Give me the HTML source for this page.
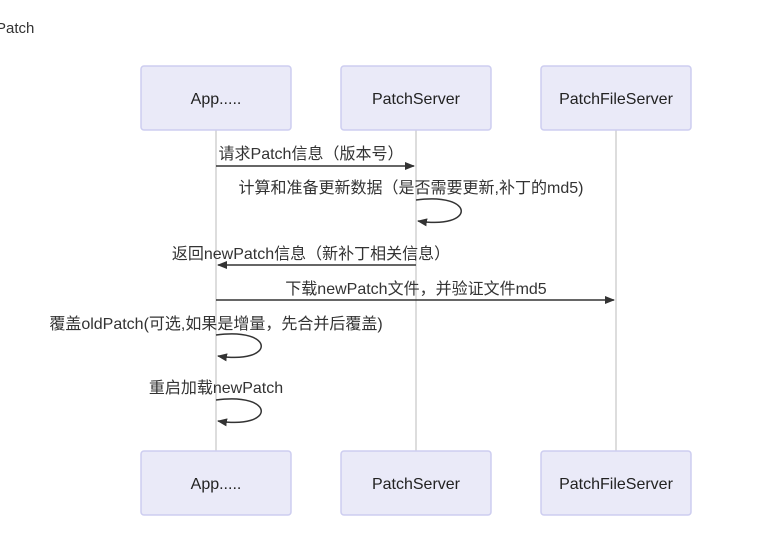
<!DOCTYPE html>
<html><head><meta charset="utf-8"><style>
body{margin:0;background:#fff;}
svg{display:block;font-family:"Liberation Sans","Noto Sans CJK SC",sans-serif;}
.box{fill:#eaeaf8;stroke:#cdcdf0;stroke-width:1.5;}
.an{font-size:16px;fill:#222;text-anchor:middle;}
.msg{font-size:16px;fill:#333;text-anchor:middle;}
.ll{stroke:#bbb;stroke-width:1;}
.ar{stroke:#333;stroke-width:1.5;fill:none;}
</style></head><body>
<svg width="760" height="554" viewBox="0 0 760 554">
<defs><marker id="a" markerWidth="10" markerHeight="8" refX="9" refY="4" orient="auto" markerUnits="userSpaceOnUse"><path d="M0,0 L10,4 L0,8 z" fill="#333"/></marker></defs>
<text x="-4" y="33" font-size="15" fill="#333">Patch</text>
<line class="ll" x1="216" y1="130" x2="216" y2="451"/>
<line class="ll" x1="416" y1="130" x2="416" y2="451"/>
<line class="ll" x1="616" y1="130" x2="616" y2="451"/>
<rect class="box" x="141" y="66" width="150" height="64" rx="3"/>
<rect class="box" x="341" y="66" width="150" height="64" rx="3"/>
<rect class="box" x="541" y="66" width="150" height="64" rx="3"/>
<rect class="box" x="141" y="451" width="150" height="64" rx="3"/>
<rect class="box" x="341" y="451" width="150" height="64" rx="3"/>
<rect class="box" x="541" y="451" width="150" height="64" rx="3"/>
<text class="an" x="216" y="104">App.....</text>
<text class="an" x="416" y="104">PatchServer</text>
<text class="an" x="616" y="104">PatchFileServer</text>
<text class="an" x="216" y="489">App.....</text>
<text class="an" x="416" y="489">PatchServer</text>
<text class="an" x="616" y="489">PatchFileServer</text>

<text class="msg" x="311" y="159">请求Patch信息（版本号）</text>
<line class="ar" x1="216" y1="166" x2="414" y2="166" marker-end="url(#a)"/>
<text class="msg" x="411" y="193">计算和准备更新数据（是否需要更新,补丁的md5)</text>
<path class="ar" d="M416,200 C476,192 476,230 418,221" marker-end="url(#a)"/>
<text class="msg" x="311" y="259">返回newPatch信息（新补丁相关信息）</text>
<line class="ar" x1="416" y1="265" x2="218" y2="265" marker-end="url(#a)"/>
<text class="msg" x="416" y="294">下载newPatch文件，并验证文件md5</text>
<line class="ar" x1="216" y1="300" x2="614" y2="300" marker-end="url(#a)"/>
<text class="msg" x="216" y="329">覆盖oldPatch(可选,如果是增量，先合并后覆盖)</text>
<path class="ar" d="M216,335 C276,327 276,365 218,356" marker-end="url(#a)"/>
<text class="msg" x="216" y="393">重启加载newPatch</text>
<path class="ar" d="M216,400 C276,392 276,430 218,421" marker-end="url(#a)"/>
</svg>
</body></html>
